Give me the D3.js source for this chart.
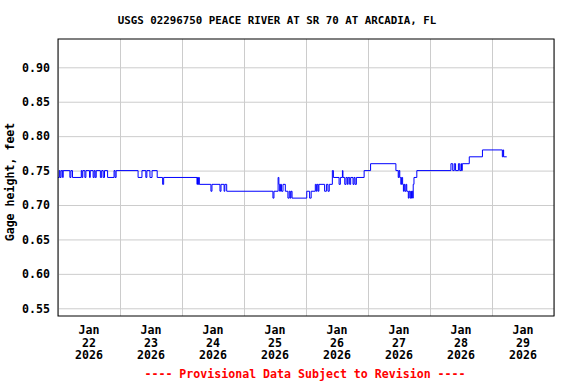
<!DOCTYPE html>
<html>
<head>
<meta charset="utf-8">
<script src="https://cdn.jsdelivr.net/npm/d3@7"></script>
<style>
  body { margin: 0; background: #fff; }
  text { font-family: "DejaVu Sans Mono", monospace; font-weight: bold; }
</style>
</head>
<body>
<div id="chart"></div>
<script>
(function(){
// Gage height change points (hours after Jan 22 2026 00:00, feet)
const stepHours = [
    0.0, 0.5, 0.8, 1.2, 1.8, 2.0, 4.6, 5.0, 5.6, 9.0, 9.3, 9.6, 10.4, 10.8,
    12.2, 12.5, 13.6, 14.0, 14.4, 14.8, 16.4, 16.9, 17.5, 18.0, 19.2, 21.7, 22.1, 22.5,
    31.0, 32.5, 34.0, 34.4, 35.6, 36.4, 38.4, 40.5, 40.9,
    53.8, 54.0, 54.3, 54.5, 54.7, 59.2, 59.6, 62.7, 63.1, 64.3, 64.6, 65.3,
    83.2, 83.6, 85.2, 85.5, 85.8, 86.1, 86.5, 87.1, 88.0, 89.0, 89.5, 89.9, 90.2, 90.6,
    96.3, 97.4, 98.0, 99.6, 100.0, 100.3, 100.7, 101.0, 103.2, 103.9, 104.5, 105.0,
    106.2, 106.6, 108.8, 109.3, 110.1, 110.3, 111.0, 111.5, 112.0, 112.3, 112.9, 113.3,
    114.2, 114.6, 115.0, 115.5, 118.5, 121.0,
    130.8, 131.7, 132.0, 132.3, 132.7, 133.0, 133.4, 133.7, 134.0, 134.3, 134.7, 135.0,
    135.6, 135.9, 136.3, 136.6, 136.8, 137.0, 137.3, 137.5, 137.8, 138.9,
    152.1, 152.8, 153.4, 153.9, 155.0, 155.5, 156.0, 156.2, 156.5, 159.2, 164.3,
    172.0, 172.3, 172.5, 173.7
];
const stepValues = [
    0.74, 0.75, 0.74, 0.75, 0.74, 0.75, 0.74, 0.75, 0.74, 0.75, 0.74, 0.75, 0.74, 0.75,
    0.74, 0.75, 0.74, 0.75, 0.74, 0.75, 0.74, 0.75, 0.74, 0.75, 0.74, 0.75, 0.74, 0.75,
    0.74, 0.75, 0.74, 0.75, 0.74, 0.75, 0.74, 0.73, 0.74,
    0.73, 0.74, 0.73, 0.74, 0.73, 0.72, 0.73, 0.72, 0.73, 0.72, 0.73, 0.72,
    0.71, 0.72, 0.74, 0.73, 0.72, 0.73, 0.72, 0.73, 0.72, 0.71, 0.72, 0.71, 0.72, 0.71,
    0.72, 0.71, 0.72, 0.73, 0.72, 0.73, 0.72, 0.73, 0.72, 0.73, 0.72, 0.73,
    0.75, 0.74, 0.73, 0.74, 0.75, 0.74, 0.73, 0.74, 0.73, 0.74, 0.73, 0.74,
    0.73, 0.74, 0.73, 0.74, 0.75, 0.76,
    0.75, 0.74, 0.75, 0.74, 0.73, 0.74, 0.73, 0.72, 0.73, 0.72, 0.73, 0.72,
    0.71, 0.72, 0.71, 0.72, 0.71, 0.72, 0.71, 0.73, 0.74, 0.75,
    0.76, 0.75, 0.76, 0.75, 0.76, 0.75, 0.76, 0.75, 0.76, 0.77, 0.78,
    0.77, 0.78, 0.77, 0.77
];
const yTicks = [0.55, 0.60, 0.65, 0.70, 0.75, 0.80, 0.85, 0.90];
const dayLabels = ["22", "23", "24", "25", "26", "27", "28", "29"];

const startDate = new Date(2026, 0, 22);
const endDate = new Date(2026, 0, 30);
const series = stepHours.map((h, i) => ({
    date: d3.timeMinute.offset(startDate, Math.round(h * 60)),
    value: stepValues[i]
}));

const margin = { top: 39, right: 22, bottom: 68, left: 58 };
const width = 576 - margin.left - margin.right;
const height = 384 - margin.top - margin.bottom;

const root = d3.select("#chart")
    .append("svg")
    .attr("width", 576)
    .attr("height", 384);

const svg = root.append("g")
    .attr("transform", `translate(${margin.left},${margin.top})`);

// Scales
const xScale = d3.scaleTime()
    .domain([startDate, endDate])
    .range([0, width]);

const yScale = d3.scaleLinear()
    .domain([0.5388, 0.9411])
    .range([height, 0]);

// Horizontal grid + y labels
const yAxis = svg.append("g")
    .call(d3.axisLeft(yScale)
        .tickValues(yTicks)
        .tickSize(-width)
        .tickPadding(8)
        .tickFormat(d3.format(".2f")));
yAxis.select(".domain").remove();
yAxis.selectAll("line").attr("stroke", "#cccccc");
yAxis.selectAll("text")
    .attr("fill", "#000")
    .style("font-size", "11.6px");

// Vertical grid at midnight
const xGrid = svg.append("g")
    .attr("transform", `translate(0,${height})`)
    .call(d3.axisBottom(xScale)
        .ticks(d3.timeDay.every(1))
        .tickSize(-height)
        .tickFormat(""));
xGrid.select(".domain").remove();
xGrid.selectAll("line").attr("stroke", "#cccccc");

// Day labels at noon
const noonDays = dayLabels.map((d, i) => d3.timeHour.offset(d3.timeDay.offset(startDate, i), 12));
const labels = svg.append("g")
    .selectAll("text")
    .data(noonDays)
    .enter()
    .append("text")
    .attr("text-anchor", "middle")
    .attr("x", d => xScale(d))
    .attr("y", height + 18)
    .style("font-size", "11.6px");
labels.append("tspan").attr("x", d => xScale(d)).attr("dy", 0).text("Jan");
labels.append("tspan").attr("x", d => xScale(d)).attr("dy", 12.6).text((d, i) => dayLabels[i]);
labels.append("tspan").attr("x", d => xScale(d)).attr("dy", 12.6).text(d => d.getFullYear());

// Data line
const line = d3.line()
    .x(d => xScale(d.date))
    .y(d => yScale(d.value))
    .curve(d3.curveStepAfter);

svg.append("path")
    .datum(series)
    .attr("fill", "none")
    .attr("stroke", "#0000ff")
    .attr("stroke-width", 1)
    .attr("d", line);

// Frame
svg.append("rect")
    .attr("x", 0)
    .attr("y", 0)
    .attr("width", width)
    .attr("height", height)
    .attr("fill", "none")
    .attr("stroke", "#000")
    .attr("stroke-width", 1);

// Y axis title
root.append("text")
    .attr("transform", "translate(14,182) rotate(-90)")
    .attr("text-anchor", "middle")
    .style("font-size", "11.6px")
    .text("Gage height, feet");

// Title
root.append("text")
    .attr("x", 277)
    .attr("y", 24)
    .attr("text-anchor", "middle")
    .style("font-size", "10.8px")
    .text("USGS 02296750 PEACE RIVER AT SR 70 AT ARCADIA, FL");

// Provisional note
root.append("text")
    .attr("x", 305)
    .attr("y", 378)
    .attr("text-anchor", "middle")
    .attr("fill", "#ff0000")
    .style("font-size", "11.6px")
    .text("---- Provisional Data Subject to Revision ----");
})();
</script>
</body>
</html>
